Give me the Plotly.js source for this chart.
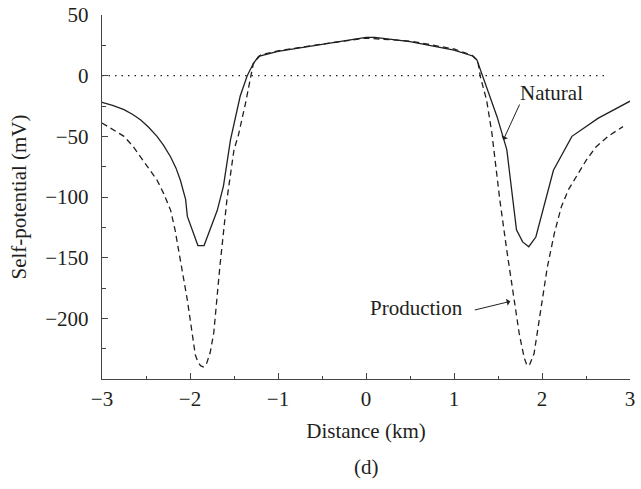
<!DOCTYPE html>
<html>
<head>
<meta charset="utf-8">
<script src="https://cdn.plot.ly/plotly-3.0.1.min.js"></script>
<style>html,body{margin:0;padding:0;background:#fff;}#chart{width:641px;height:489px;}</style>
</head>
<body>
<div id="chart"></div>
<script>
// Distance (km) and self-potential (mV)
const naturalX = [-3, -2.88, -2.75, -2.65, -2.56, -2.47, -2.375, -2.3, -2.22, -2.16, -2.11, -2.05, -2.03, -1.91, -1.84, -1.77, -1.69, -1.62, -1.54, -1.43, -1.35, -1.28, -1.22, -1.0, -0.5, 0, 0.1, 0.5, 1.0, 1.22, 1.26, 1.35, 1.49, 1.60, 1.71, 1.78, 1.85, 1.93, 2.13, 2.34, 2.64, 3.0];
const naturalY = [-22, -24.5, -28, -32, -36.5, -42.5, -50, -57.5, -67, -76, -86, -102, -116, -140, -140, -127, -111, -91, -53, -17, 0, 10, 16, 20, 26, 31.5, 31.5, 28, 21, 16, 13, -5, -34, -61, -127, -137, -141, -133, -78, -50, -35, -21];

const productionX = [-3, -2.88, -2.75, -2.65, -2.56, -2.47, -2.375, -2.3, -2.22, -2.17, -2.13, -2.08, -2.03, -1.98, -1.94, -1.91, -1.88, -1.85, -1.81, -1.77, -1.73, -1.66, -1.58, -1.5, -1.45, -1.37, -1.31, -1.28, -1.2, -1.0, -0.5, 0, 0.5, 1.0, 1.2, 1.27, 1.30, 1.37, 1.43, 1.52, 1.60, 1.68, 1.74, 1.77, 1.80, 1.83, 1.86, 1.91, 1.98, 2.06, 2.14, 2.22, 2.30, 2.42, 2.50, 2.61, 2.75, 2.92];
const productionY = [-39, -44, -50, -58, -67, -76, -86, -97, -111, -127, -144, -164, -185, -210, -230, -236, -239, -240, -237, -228, -212, -157, -102, -61, -49, -23, 0.6, 10, 17, 20.5, 26, 31, 28.5, 22, 17, 12, -1, -20, -47, -102, -144, -185, -212, -223, -233, -239, -238, -229, -196, -158, -130, -108, -94, -79, -70, -59, -50, -42];

const zeroX = [-3, 2.75];
const zeroY = [0, 0];

const xTickVals = [-3, -2, -1, 0, 1, 2, 3];
const xTickText = ['\u22123', '\u22122', '\u22121', '0', '1', '2', '3'];
const yTickVals = [50, 0, -50, -100, -150, -200];
const yTickText = ['50', '0', '\u221250', '\u2212100', '\u2212150', '\u2212200'];

const FONT = 'Liberation Serif, Times New Roman, serif';
const FS = 21;
const INK = '#231f20';

const traces = [
  {x: zeroX, y: zeroY, mode: 'lines', line: {color: INK, width: 1.2, dash: '1.5px,5px'}, hoverinfo: 'skip', showlegend: false},
  {x: naturalX, y: naturalY, mode: 'lines', name: 'Natural', line: {color: INK, width: 1.3}, showlegend: false},
  {x: productionX, y: productionY, mode: 'lines', name: 'Production', line: {color: INK, width: 1.3, dash: '6px,4px'}, showlegend: false}
];

const layout = {
  width: 641, height: 489,
  margin: {l: 102, r: 11, t: 15, b: 110},
  paper_bgcolor: '#fff', plot_bgcolor: '#fff',
  font: {family: FONT, size: FS, color: INK},
  xaxis: {
    range: [-3, 3], showgrid: false, zeroline: false,
    showline: true, linecolor: '#444', linewidth: 1.3,
    ticks: 'inside', ticklen: 6, tickwidth: 1, tickcolor: '#444',
    tickvals: xTickVals, ticktext: xTickText,
    minor: {dtick: 0.5, ticks: 'inside', ticklen: 3.5, tickwidth: 1, tickcolor: '#444', showgrid: false},
    tickfont: {family: FONT, size: FS, color: INK},
    title: {text: 'Distance (km)', font: {family: FONT, size: FS, color: INK}, standoff: 13}
  },
  yaxis: {
    range: [-250, 50], showgrid: false, zeroline: false,
    showline: true, linecolor: '#444', linewidth: 1.3,
    ticks: 'inside', ticklen: 6, tickwidth: 1, tickcolor: '#444',
    tickvals: yTickVals, ticktext: yTickText,
    minor: {dtick: 25, ticks: 'inside', ticklen: 3.5, tickwidth: 1, tickcolor: '#444', showgrid: false},
    ticklabelstandoff: 8,
    tickfont: {family: FONT, size: FS, color: INK},
    title: {text: 'Self-potential (mV)', font: {family: FONT, size: FS, color: INK}, standoff: 12}
  },
  annotations: [
    {x: 1.73, y: -14, xref: 'x', yref: 'y', text: 'Natural', showarrow: false, xanchor: 'left', yanchor: 'middle', font: {family: FONT, size: FS, color: INK}},
    {x: 1.56, y: -53, xref: 'x', yref: 'y', text: '', showarrow: true, ax: 17, ay: -37, arrowhead: 1, arrowsize: 1.2, arrowwidth: 1, arrowcolor: INK},
    {x: 0.026, y: -191.5, xref: 'x', yref: 'y', text: 'Production', showarrow: false, xanchor: 'left', yanchor: 'middle', font: {family: FONT, size: FS, color: INK}},
    {x: 1.64, y: -186, xref: 'x', yref: 'y', text: '', showarrow: true, ax: -37, ay: 9, arrowhead: 1, arrowsize: 1.2, arrowwidth: 1, arrowcolor: INK},
    {x: 0.5, y: -0.242, xref: 'paper', yref: 'paper', text: '(d)', showarrow: false, xanchor: 'center', yanchor: 'middle', font: {family: FONT, size: FS, color: INK}}
  ]
};

Plotly.newPlot('chart', traces, layout, {staticPlot: true, displayModeBar: false});
</script>
</body>
</html>
